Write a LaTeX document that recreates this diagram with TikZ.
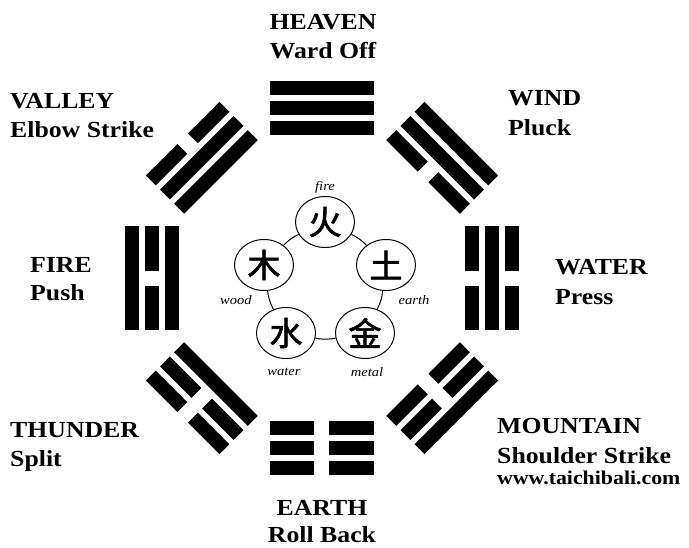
\documentclass[tikz,border=0pt]{standalone}
\usepackage{fontspec}
\setmainfont{Liberation Serif}[FakeStretch=1.12]
\newfontfamily\cjk{Noto Sans CJK SC}[FakeBold=2]
\usetikzlibrary{shapes.geometric}

\begin{document}
\begin{tikzpicture}[x=1pt,y=1pt,
    bigname/.style={font=\bfseries\fontsize{23}{23}\selectfont, inner sep=0pt},
    smallname/.style={font=\bfseries\fontsize{19.5}{19.5}\selectfont, inner sep=0pt},
    elem/.style={ellipse, draw, line width=1pt, fill=white, minimum width=59pt, minimum height=51pt, inner sep=0pt, font=\cjk\fontsize{33}{33}\selectfont},
    elemname/.style={font=\itshape\fontsize{13}{13}\selectfont, inner sep=0pt}]

        \useasboundingbox (-322,-269) rectangle (367,278);

        % Heaven
        \begin{scope}[rotate=0]
        \fill (-52,143) rectangle (52,157);
        \fill (-52,163) rectangle (52,177);
        \fill (-52,183) rectangle (52,197);
        \end{scope}

        % Wind
        \begin{scope}[rotate=-45]
        \fill (-52,143) rectangle (-7.5,157);
        \fill (7.5,143) rectangle (52,157);
        \fill (-52,163) rectangle (52,177);
        \fill (-52,183) rectangle (52,197);
        \end{scope}

        % Water
        \begin{scope}[rotate=-90]
        \fill (-52,143) rectangle (-7.5,157);
        \fill (7.5,143) rectangle (52,157);
        \fill (-52,163) rectangle (52,177);
        \fill (-52,183) rectangle (-7.5,197);
        \fill (7.5,183) rectangle (52,197);
        \end{scope}

        % Mountain
        \begin{scope}[rotate=-135]
        \fill (-52,143) rectangle (-7.5,157);
        \fill (7.5,143) rectangle (52,157);
        \fill (-52,163) rectangle (-7.5,177);
        \fill (7.5,163) rectangle (52,177);
        \fill (-52,183) rectangle (52,197);
        \end{scope}

        % Earth
        \begin{scope}[rotate=180]
        \fill (-52,143) rectangle (-7.5,157);
        \fill (7.5,143) rectangle (52,157);
        \fill (-52,163) rectangle (-7.5,177);
        \fill (7.5,163) rectangle (52,177);
        \fill (-52,183) rectangle (-7.5,197);
        \fill (7.5,183) rectangle (52,197);
        \end{scope}

        % Thunder
        \begin{scope}[rotate=135]
        \fill (-52,143) rectangle (52,157);
        \fill (-52,163) rectangle (-7.5,177);
        \fill (7.5,163) rectangle (52,177);
        \fill (-52,183) rectangle (-7.5,197);
        \fill (7.5,183) rectangle (52,197);
        \end{scope}

        % Fire
        \begin{scope}[rotate=90]
        \fill (-52,143) rectangle (52,157);
        \fill (-52,163) rectangle (-7.5,177);
        \fill (7.5,163) rectangle (52,177);
        \fill (-52,183) rectangle (52,197);
        \end{scope}

        % Valley
        \begin{scope}[rotate=45]
        \fill (-52,143) rectangle (52,157);
        \fill (-52,163) rectangle (52,177);
        \fill (-52,183) rectangle (-7.5,197);
        \fill (7.5,183) rectangle (52,197);
        \end{scope}

        % Names of the eight
        \node[bigname, anchor=base] (heaven) at (1,248) {HEAVEN};
        \node[bigname, anchor=base] (wardoff) at (1,220) {Ward Off};
        \node[bigname, anchor=base west] (valley) at (-312,170) {VALLEY};
        \node[bigname, anchor=base west] (elbow) at (-312,141) {Elbow Strike};
        \node[bigname, anchor=base west] (wind) at (186,173) {WIND};
        \node[bigname, anchor=base west] (pluck) at (186,143) {Pluck};
        \node[bigname, anchor=base west] (fire) at (-292,6) {FIRE};
        \node[bigname, anchor=base west] (push) at (-292,-22) {Push};
        \node[bigname, anchor=base west] (water) at (233,4) {WATER};
        \node[bigname, anchor=base west] (press) at (233,-26) {Press};
        \node[bigname, anchor=base west] (thunder) at (-312,-159) {THUNDER};
        \node[bigname, anchor=base west] (split) at (-312,-188) {Split};
        \node[bigname, anchor=base west] (mountain) at (175,-155) {MOUNTAIN};
        \node[bigname, anchor=base west] (shoulder) at (175,-185) {Shoulder Strike};
        \node[smallname, anchor=base west] (site) at (175,-206) {www.taichibali.com};
        \node[bigname, anchor=base] (earth) at (0,-237) {EARTH};
        \node[bigname, anchor=base] (rollback) at (0,-264) {Roll Back};

        % Five elements
        \node[elem] (huo) at (3,56) {火};
        \node[elem] (tu) at (64,13) {土};
        \node[elem] (jin) at (43,-55) {金};
        \node[elem] (shui) at (-36,-55) {水};
        \node[elem] (mu) at (-58,13) {木};
        \draw[line width=1pt] (huo) to[bend left=10] (tu);
        \draw[line width=1pt] (tu) to[bend left=10] (jin);
        \draw[line width=1pt] (jin) to[bend left=10] (shui);
        \draw[line width=1pt] (shui) to[bend left=10] (mu);
        \draw[line width=1pt] (mu) to[bend left=10] (huo);
        \node[elemname] (huoname) at (3,91) {fire};
        \node[elemname] (tuname) at (92,-22) {earth};
        \node[elemname] (jinname) at (45,-94) {metal};
        \node[elemname] (shuiname) at (-38,-94) {water};
        \node[elemname] (muname) at (-86,-22) {wood};

\end{tikzpicture}
\end{document}
